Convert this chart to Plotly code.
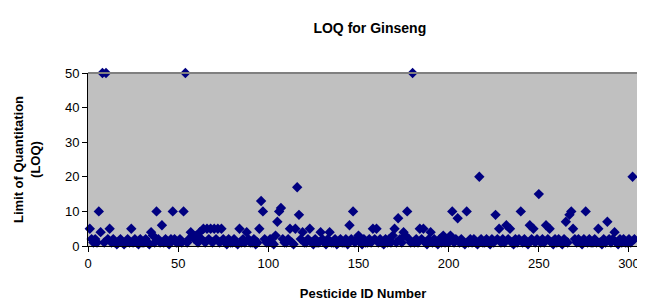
import plotly.graph_objects as go

# Pesticide IDs 1..303 and their LOQ values
loq_values = [
    5, 2, 1, 2, 1, 10, 4, 50, 1, 50,
    2, 5, 1, 2, 1, 0.5, 1, 2, 1, 0.5,
    1, 2, 1, 5, 1, 2, 1, 0.5, 2, 1,
    1, 2, 1, 0.5, 4, 3, 1, 10, 2, 1,
    6, 1, 2, 1, 0.5, 2, 10, 2, 1, 1,
    2, 1, 10, 50, 1, 2, 4, 3, 2, 3,
    1, 4, 2, 5, 1, 5, 2, 5, 1, 5,
    2, 5, 1, 5, 2, 1, 0.5, 2, 1, 1,
    2, 1, 0.5, 5, 1, 2, 1, 4, 2, 1,
    1, 2, 0.5, 1, 5, 13, 10, 2, 1, 1,
    2, 1, 0.5, 3, 7, 10, 11, 2, 1, 1,
    2, 5, 1, 0.5, 5, 17, 9, 2, 4, 1,
    1, 2, 5, 1, 0.5, 2, 1, 1, 4, 2,
    1, 0.5, 2, 4, 1, 1, 2, 0.5, 1, 2,
    1, 1, 2, 0.5, 6, 2, 10, 1, 2, 3,
    1, 0.5, 2, 1, 1, 2, 1, 5, 2, 5,
    1, 2, 1, 0.5, 2, 1, 2, 1, 3, 5,
    1, 8, 2, 1, 4, 3, 10, 2, 1, 50,
    1, 2, 1, 5, 2, 5, 1, 0.5, 2, 4,
    1, 2, 1, 0.5, 2, 1, 3, 1, 2, 1,
    3, 10, 1, 2, 8, 1, 2, 1, 0.5, 10,
    1, 2, 1, 2, 1, 0.5, 20, 2, 1, 1,
    2, 1, 0.5, 2, 1, 9, 2, 5, 1, 2,
    1, 6, 2, 5, 1, 0.5, 2, 1, 2, 10,
    1, 2, 1, 0.5, 6, 2, 5, 1, 2, 15,
    1, 2, 1, 6, 2, 5, 1, 0.5, 2, 1,
    2, 1, 0.5, 2, 7, 1, 9, 10, 5, 2,
    1, 2, 1, 0.5, 2, 10, 1, 2, 1, 1,
    2, 1, 5, 1, 0.5, 2, 1, 7, 2, 1,
    2, 4, 1, 0.5, 2, 1, 2, 1, 1, 2,
    1, 20, 2,
]
pesticide_ids = list(range(1, len(loq_values) + 1))

x_ticks = [0, 50, 100, 150, 200, 250, 300]
y_ticks = [0, 10, 20, 30, 40, 50]

fig = go.Figure()
fig.add_trace(go.Scatter(
    x=pesticide_ids, y=loq_values, mode="markers",
    marker=dict(symbol="diamond", size=8, color="#000080",
                line=dict(width=0)),
    cliponaxis=False, showlegend=False,
))

font_family = "Liberation Sans, Arial, sans-serif"
fig.update_layout(
    width=637, height=297,
    margin=dict(l=80, r=7, t=65, b=59, autoexpand=False),
    paper_bgcolor="white",
    plot_bgcolor="#C0C0C0",
    font=dict(family=font_family, size=13, color="black"),
    title=dict(text="<b>LOQ for Ginseng</b>", x=0.568, xanchor="center",
               xref="container", yref="container",
               y=0.933, yanchor="middle", font=dict(size=14),
               automargin=False),
    xaxis=dict(range=[0, 305], tickvals=x_ticks, ticks="outside",
               ticklen=5, tickcolor="black", showgrid=False, zeroline=False,
               showline=True, linecolor="black", linewidth=1,
               automargin=False,
               title=dict(text="<b>Pesticide ID Number</b>", standoff=19,
                          font=dict(size=13))),
    yaxis=dict(range=[0, 50], tickvals=y_ticks, ticks="outside",
               ticklen=5, tickcolor="black", showgrid=False, zeroline=False,
               showline=True, linecolor="black", linewidth=1,
               automargin=False,
               title=dict(text="<b>Limit of Quantitation<br>(LOQ)</b>",
                          standoff=21, font=dict(size=13))),
    shapes=[
        dict(type="line", xref="paper", yref="paper", x0=0, x1=1, y0=1, y1=1,
             line=dict(color="#808080", width=2)),
        dict(type="line", xref="paper", yref="paper", x0=1, x1=1, y0=0, y1=1,
             line=dict(color="#808080", width=2)),
    ],
)

fig.write_html("out.html")
